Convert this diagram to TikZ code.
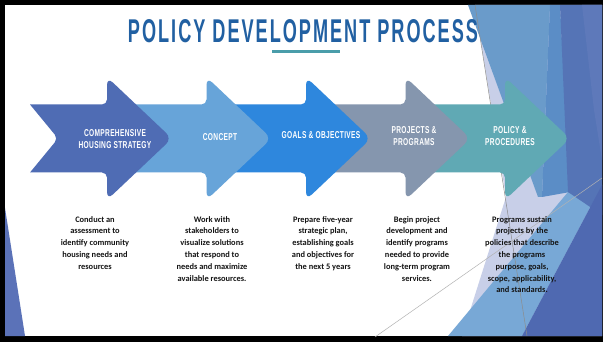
\documentclass[tikz,border=0pt]{standalone}
\usepackage{fontspec}
\usepackage{graphicx}
\setmainfont{Carlito}
\newfontfamily\titlefont{Liberation Sans}[LetterSpace=11]
\newfontfamily\labelfont{Liberation Sans}[LetterSpace=5]
\newfontfamily\bodyfont{Carlito}
\definecolor{titleblue}{HTML}{2160A2}
\definecolor{ulteal}{HTML}{4A9DAA}
\definecolor{aone}{HTML}{4F6CB4}
\definecolor{atwo}{HTML}{67A4D9}
\definecolor{athree}{HTML}{2E87DD}
\definecolor{afour}{HTML}{8596AE}
\definecolor{afive}{HTML}{60A9B4}
\definecolor{pale}{HTML}{C8CFE8}
\definecolor{medblue}{HTML}{78A8D6}
\definecolor{lightblue}{HTML}{6A9BCA}
\definecolor{midblue}{HTML}{5B8DC6}
\definecolor{darkone}{HTML}{5574B6}
\definecolor{darktwo}{HTML}{4F69B1}
\definecolor{stripe}{HTML}{5E79BA}
\definecolor{tri}{HTML}{5B72B8}
\newcommand\flowarrow[2]{%
  \fill[#2] (#1-142,104.5) [rounded corners=5pt] -- (#1-65,104.5)
    [rounded corners=8pt] -- (#1-65,77) -- (#1,138.5) -- (#1-65,200)
    [rounded corners=5pt] -- (#1-65,172.5) [sharp corners] -- (#1-142,172.5)
    [rounded corners=5pt] -- (#1-114,138.5) [sharp corners] -- cycle;}
\newcommand\cond[1]{\scalebox{0.66}[1]{#1}}
\tikzset{
  lbl/.style={text=white, align=center, inner sep=0pt,
    font=\labelfont\bfseries\fontsize{10}{12}\selectfont},
  body/.style={anchor=north, align=center, inner sep=0pt, text=black!92,
    font=\bodyfont\bfseries\fontsize{8.4}{11.8}\selectfont},
}
\begin{document}
\begin{tikzpicture}[x=1pt,y=-1pt]
\useasboundingbox (0,0) rectangle (603,342);
\fill[black] (0,0) rectangle (603,342);
\fill[white] (5,5) rectangle (602,336);
% right-hand facets
\fill[pale] (475,5) -- (602,5) -- (602,336) -- (462,336) -- (506,197) -- cycle;
\fill[medblue] (448,336) -- (568,192) -- (602,185) -- (522,336) -- cycle;
\fill[lightblue] (468,5) -- (550,5) -- (542,197) -- (538,197) -- cycle;
\fill[midblue] (550,5) -- (560,5) -- (570,192) -- (542,197) -- cycle;
\fill[darkone] (560,5) -- (602,5) -- (602,215) -- (568,192) -- cycle;
\fill[stripe] (582,5) -- (602,5) -- (602,160) -- (594,110) -- cycle;
\fill[darktwo] (522,336) -- (602,185) -- (602,336) -- cycle;
\fill[tri] (5,208) -- (25,336) -- (5,336) -- cycle;
\draw[black!45, line width=0.5pt] (475,5) -- (527,336);
\draw[black!30, line width=0.5pt] (375,337) -- (602,178);
% title
\node[inner sep=0pt, text=titleblue] (title) at (303,31)
  {\resizebox{350pt}{23pt}{\titlefont\bfseries POLICY DEVELOPMENT PROCESS}};
\fill[ulteal] (272,50) rectangle (340,53.5);
% arrows (last one first)
\flowarrow{570}{afive}
\flowarrow{470.5}{afour}
\flowarrow{371}{athree}
\flowarrow{271.5}{atwo}
\flowarrow{172}{aone}
% labels
\node[lbl] (l1) at (115,139) {\cond{COMPREHENSIVE}\\\cond{HOUSING STRATEGY}};
\node[lbl] (l2) at (220,137) {\cond{CONCEPT}};
\node[lbl] (l3) at (321,135) {\cond{GOALS \& OBJECTIVES}};
\node[lbl] (l4) at (414,136.5) {\cond{PROJECTS \&}\\\cond{PROGRAMS}};
\node[lbl] (l5) at (510,136) {\cond{POLICY \&}\\\cond{PROCEDURES}};
% descriptions
\node[body] (d1) at (95,216) {Conduct an\\assessment to\\identify community\\housing needs and\\resources};
\node[body] (d2) at (212,216) {Work with\\stakeholders to\\visualize solutions\\that respond to\\needs and maximize\\available resources.};
\node[body] (d3) at (323,216) {Prepare five-year\\strategic plan,\\establishing goals\\and objectives for\\the next 5 years};
\node[body] (d4) at (417,216) {Begin project\\development and\\identify programs\\needed to provide\\long-term program\\services.};
\node[body] (d5) at (522,216) {Programs sustain\\projects by the\\policies that describe\\the programs\\purpose, goals,\\scope, applicability,\\and standards.};
\end{tikzpicture}
\end{document}
